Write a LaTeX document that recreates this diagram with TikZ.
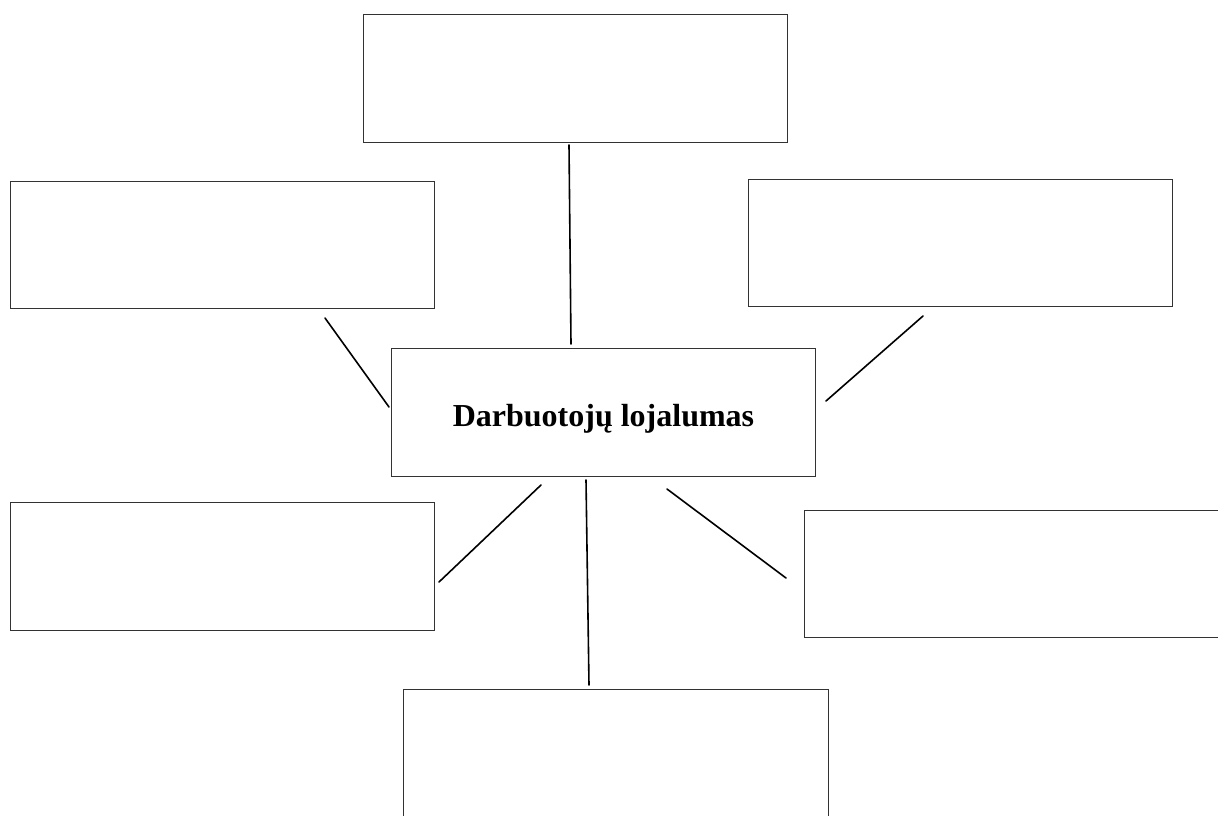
\documentclass[tikz,border=0pt]{standalone}
\usepackage{fontspec}
\setmainfont{Liberation Serif}
\begin{document}
\begin{tikzpicture}[x=1pt,y=-1pt,
  box/.style={draw=black!80,line width=1pt,rectangle,inner sep=0pt,anchor=north west,minimum width=424pt,minimum height=128pt},
  link/.style={line width=1.6pt,line cap=round}]
\useasboundingbox (0,0) rectangle (1218,815);
\clip (0,0) rectangle (1218,815);
\node[box] (top) at (363,14) {};
\node[box,minimum height=127pt] (ul) at (10,181) {};
\node[box,minimum height=127pt] (ur) at (748,179) {};
\node[box,font=\bfseries\fontsize{32}{38}\selectfont,text height=30pt,text depth=2pt] (c) at (391,348) {Darbuotojų lojalumas};
\node[box] (ll) at (10,502) {};
\node[box,minimum width=430pt,minimum height=127pt] (lr) at (804,510) {};
\node[box,minimum width=425pt,minimum height=140pt] (bot) at (403,689) {};
\coordinate (a1) at (569,145); \coordinate (a2) at (571,344);
\coordinate (b1) at (325,318); \coordinate (b2) at (389,407);
\coordinate (c1) at (923,316); \coordinate (c2) at (826,401);
\coordinate (d1) at (541,485); \coordinate (d2) at (439,582);
\coordinate (e1) at (586,480); \coordinate (e2) at (589,685);
\coordinate (f1) at (667,489); \coordinate (f2) at (786,578);
\draw[link] (a1) -- (a2);
\draw[link] (b1) -- (b2);
\draw[link] (c1) -- (c2);
\draw[link] (d1) -- (d2);
\draw[link] (e1) -- (e2);
\draw[link] (f1) -- (f2);
\end{tikzpicture}
\end{document}
